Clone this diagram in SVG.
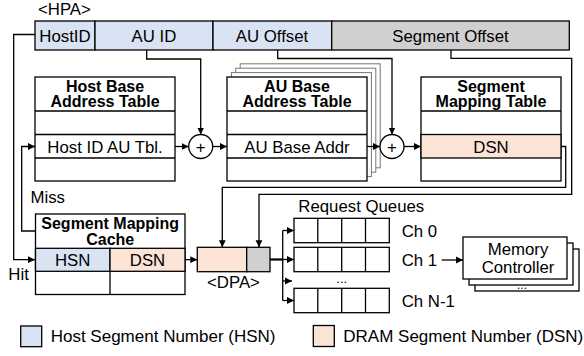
<svg xmlns="http://www.w3.org/2000/svg" width="584" height="356" viewBox="0 0 584 356">
<defs>
<marker id="ah" markerUnits="userSpaceOnUse" markerWidth="8" markerHeight="8" refX="7" refY="4" orient="auto">
<path d="M0,0.6 L7,4 L0,7.4 z" fill="#000"/>
</marker>
<style>
text{font-family:"Liberation Sans",Arial,sans-serif;font-size:16.8px;fill:#000}
.t{font-weight:bold;text-anchor:middle;font-size:16px}
.c{text-anchor:middle}
.box{fill:#fff;stroke:#000;stroke-width:1.3}
.ln{fill:none;stroke:#000;stroke-width:1.3}
.blue{fill:#dae3f3;stroke:#000;stroke-width:1.3}
.peach{fill:#fbe3d6;stroke:#000;stroke-width:1.3}
.gray{fill:#d0d0d0;stroke:#000;stroke-width:1.3}
.sh{fill:#fff;stroke:#777;stroke-width:1}
.ar{fill:none;stroke:#000;stroke-width:1.3;marker-end:url(#ah)}
.lg{font-size:17px}
</style>
</defs>

<g id="hpa">
<text x="38" y="15">&lt;HPA&gt;</text>
<rect class="blue" x="35" y="21" width="60" height="29"/>
<rect class="blue" x="95" y="21" width="118" height="29"/>
<rect class="blue" x="213" y="21" width="118.7" height="29"/>
<rect class="gray" x="331.7" y="21" width="237.6" height="29"/>
<text class="c" x="65" y="41.5">HostID</text>
<text class="c" x="154" y="41.5">AU ID</text>
<text class="c" x="272" y="41.5">AU Offset</text>
<text class="c" x="450.5" y="41.5">Segment Offset</text>
</g>

<g id="host-base-table">
<rect class="box" x="35" y="77" width="140" height="104"/>
<path class="ln" d="M35,111 H175 M35,134.5 H175 M35,158 H175"/>
<text class="t" x="105" y="91.5">Host Base</text>
<text class="t" x="105" y="107">Address Table</text>
<text class="c" x="105" y="152.5">Host ID AU Tbl.</text>
</g>

<g id="au-base-table">
<rect class="sh" x="240.2" y="63.8" width="140" height="104"/>
<rect class="sh" x="235.8" y="68.2" width="140" height="104"/>
<rect class="sh" x="231.4" y="72.6" width="140" height="104"/>
<rect class="box" x="227" y="77" width="140" height="104"/>
<path class="ln" d="M227,111 H367 M227,134.5 H367 M227,158 H367"/>
<text class="t" x="297" y="91.5">AU Base</text>
<text class="t" x="297" y="107">Address Table</text>
<text class="c" x="297" y="152.5">AU Base Addr</text>
</g>

<g id="segment-mapping-table">
<rect class="box" x="421" y="77" width="140" height="104"/>
<rect class="peach" x="421" y="134.5" width="140" height="23.5"/>
<path class="ln" d="M421,111 H561"/>
<text class="t" x="491" y="91.5">Segment</text>
<text class="t" x="491" y="107">Mapping Table</text>
<text class="c" x="491" y="152.5">DSN</text>
</g>

<g id="adder1">
<circle class="box" cx="200.7" cy="146.5" r="12"/>
<text class="c" x="200.7" y="152.5">+</text>
</g>
<g id="adder2">
<circle class="box" cx="392" cy="146.5" r="12"/>
<text class="c" x="392" y="152.5">+</text>
</g>

<g id="segment-mapping-cache">
<rect class="box" x="35.5" y="214" width="149.5" height="80.5"/>
<rect class="blue" x="35.5" y="248.3" width="74.5" height="23"/>
<rect class="peach" x="110" y="248.3" width="75" height="23"/>
<path class="ln" d="M110,271.3 V294.5"/>
<text class="t" x="110.2" y="228.5">Segment Mapping</text>
<text class="t" x="110.2" y="244.5">Cache</text>
<text class="c" x="72.7" y="265.7">HSN</text>
<text class="c" x="147.5" y="265.7">DSN</text>
</g>

<g id="dpa">
<rect class="peach" x="197.3" y="247.3" width="49.4" height="24.4"/>
<rect class="gray" x="246.7" y="247.3" width="23.3" height="24.4"/>
<text class="c" x="233.5" y="288">&lt;DPA&gt;</text>
</g>

<g id="request-queues">
<text x="298.3" y="212">Request Queues</text>
<rect class="box" x="294" y="218.3" width="95.3" height="24.4"/>
<rect class="box" x="294" y="247.3" width="95.3" height="24.4"/>
<rect class="box" x="294" y="288.3" width="95.3" height="24.4"/>
<path class="ln" d="M317.8,218.3 V242.7 M341.7,218.3 V242.7 M365.5,218.3 V242.7 M317.8,247.3 V271.7 M341.7,247.3 V271.7 M365.5,247.3 V271.7 M317.8,288.3 V312.7 M341.7,288.3 V312.7 M365.5,288.3 V312.7"/>
<text class="c" x="341.7" y="283" style="font-size:13px">...</text>
<text x="401.7" y="236.7">Ch 0</text>
<text x="401.7" y="265.7">Ch 1</text>
<text x="401.7" y="306.7">Ch N-1</text>
</g>

<g id="memory-controller">
<rect class="box" x="475" y="249" width="104" height="42"/>
<rect class="box" x="469" y="243" width="104" height="42"/>
<rect class="box" x="463" y="237" width="104" height="42"/>
<text class="c" x="518" y="255">Memory</text>
<text class="c" x="518" y="272.7">Controller</text>
<text class="c" x="522" y="289" style="font-size:12px">...</text>
</g>

<g id="legend">
<rect class="blue" x="20.7" y="326" width="21" height="20.7"/>
<text class="lg" x="50.7" y="342">Host Segment Number (HSN)</text>
<rect class="peach" x="313.3" y="325.5" width="21" height="21"/>
<text class="lg" x="343.3" y="342">DRAM Segment Number (DSN)</text>
</g>

<g id="connectors">
<path class="ar" d="M35,34.5 H13.7 V259.7 H35"/>
<path class="ar" d="M35.5,231 H21.7 V146.5 H35"/>
<text x="30.5" y="203">Miss</text>
<text x="8.3" y="280">Hit</text>
<path class="ar" d="M146.7,50 V59 H200.7 V134.5"/>
<path class="ar" d="M277.7,50 V58.5 H392 V134.5"/>
<path class="ar" d="M451,50 V58.3 H571.7 V194.3 H259 V247.3"/>
<path class="ar" d="M175,146.5 H188.7"/>
<path class="ar" d="M212.7,146.5 H227"/>
<path class="ar" d="M367,146.5 H380"/>
<path class="ar" d="M404,146.5 H421"/>
<path class="ar" d="M561,146.5 H565.7 V187.3 H222.3 V247.3"/>
<path class="ar" d="M185,259.7 H197.3"/>
<path class="ln" d="M270,259.5 H282.7" style="stroke-width:2.2"/>
<path class="ln" d="M282.7,230.5 V300.5"/>
<path class="ar" d="M282.7,230.5 H294"/>
<path class="ar" d="M282.7,259.5 H294"/>
<path class="ar" d="M282.7,281 H292"/>
<path class="ar" d="M282.7,300.5 H294"/>
<path class="ar" d="M441.7,260 H463"/>
</g>
</svg>
